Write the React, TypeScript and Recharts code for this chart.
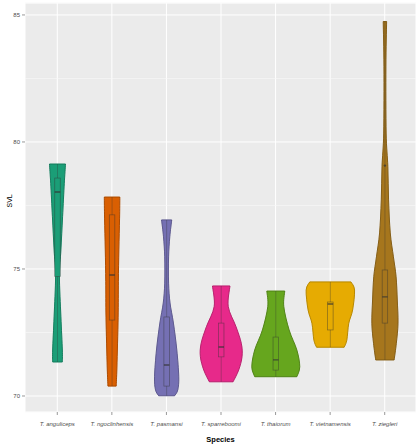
import { ComposedChart, Bar, XAxis, YAxis, CartesianGrid } from 'recharts';

const species = ['T. anguliceps', 'T. ngoclinhensis', 'T. pasmansi', 'T. sparreboomi', 'T. thaiorum', 'T. vietnamensis', 'T. ziegleri'];
const colors = ['#1B9E77', '#D95F02', '#7570B3', '#E7298A', '#66A61E', '#E6AB02', '#A6761D'];

const svlMin = [71.34, 70.39, 70.01, 70.56, 70.76, 71.92, 71.42];
const svlMax = [79.13, 77.83, 76.93, 74.33, 74.13, 74.49, 84.74];
const q1 = [74.7, 72.99, 70.39, 71.54, 71.02, 72.6, 72.87];
const median = [78.03, 74.76, 71.22, 71.93, 71.42, 73.62, 73.9];
const q3 = [78.58, 77.13, 73.11, 72.87, 72.32, 73.7, 74.96];
const outliers: number[][] = [[], [], [], [], [], [], [79.07]];

// density profiles: [SVL, relative density]
const densAnguliceps = [[79.13, 0.33], [78.37, 0.28], [77.06, 0.21], [75.75, 0.14], [74.7, 0.08], [73.12, 0.14], [71.81, 0.2], [71.34, 0.2]];
const densNgoclinhensis = [[77.83, 0.32], [77.0, 0.31], [75.75, 0.28], [74.5, 0.26], [73.1, 0.25], [71.14, 0.2], [70.39, 0.17]];
const densPasmansi = [[76.93, 0.21], [76.27, 0.13], [75.48, 0.08], [74.44, 0.08], [73.66, 0.14], [72.87, 0.28], [71.81, 0.42], [70.76, 0.5], [70.24, 0.46], [70.01, 0.33]];
const densSparreboomi = [[74.33, 0.36], [73.52, 0.29], [72.73, 0.61], [72.07, 0.83], [71.55, 0.86], [71.02, 0.72], [70.56, 0.49]];
const densThaiorum = [[74.13, 0.37], [73.52, 0.33], [72.6, 0.55], [71.81, 0.87], [71.15, 0.99], [70.76, 0.87]];
const densVietnamensis = [[74.49, 0.85], [74.17, 1.0], [73.39, 0.92], [72.86, 0.76], [72.2, 0.68], [71.92, 0.57]];
const densZiegleri = [[84.74, 0.07], [82.96, 0.04], [80.35, 0.05], [79.03, 0.12], [77.72, 0.15], [76.42, 0.22], [75.48, 0.35], [74.7, 0.46], [73.78, 0.51], [72.86, 0.54], [72.07, 0.47], [71.42, 0.38]];
const densities = [densAnguliceps, densNgoclinhensis, densPasmansi, densSparreboomi, densThaiorum, densVietnamensis, densZiegleri];

const yDomain = [69.37, 85.47];
const yTicks = [70, 75, 80, 85];
const yMinor = [72.5, 77.5, 82.5];

const data = species.map((name, i) => ({
  name,
  range: [svlMin[i], svlMax[i]],
  idx: i,
}));

function spline(pts: number[][]) {
  let d = '';
  for (let i = 0; i < pts.length - 1; i++) {
    const p0 = pts[i - 1] || pts[i];
    const p1 = pts[i];
    const p2 = pts[i + 1];
    const p3 = pts[i + 2] || pts[i + 1];
    const c1x = p1[0] + (p2[0] - p0[0]) / 6;
    const c1y = p1[1] + (p2[1] - p0[1]) / 6;
    const c2x = p2[0] - (p3[0] - p1[0]) / 6;
    const c2y = p2[1] - (p3[1] - p1[1]) / 6;
    d += ` C${c1x},${c1y} ${c2x},${c2y} ${p2[0]},${p2[1]}`;
  }
  return d;
}

const Violin = (props: any) => {
  const { x, y, width, height, payload } = props;
  const i = payload.idx;
  const lo = svlMin[i];
  const hi = svlMax[i];
  const py = (v: number) => y + (height * (hi - v)) / (hi - lo);
  const cx = x + width / 2;
  const maxHalf = width * 0.44;
  const prof = densities[i];
  const right = prof.map(([v, d]) => [cx + d * maxHalf, py(v)]);
  const left = prof.map(([v, d]) => [cx - d * maxHalf, py(v)]).reverse();
  const path =
    `M${left[left.length - 1][0]},${left[left.length - 1][1]} L${right[0][0]},${right[0][1]}` +
    spline(right) +
    ` L${left[0][0]},${left[0][1]}` +
    spline(left) +
    ' Z';
  const bw = width * 0.1;
  return (
    <g>
      <path d={path} fill={colors[i]} stroke={colors[i]} strokeWidth={1} />
      <path d={path} fill="none" stroke="#000" strokeOpacity={0.25} strokeWidth={0.8} />
      <line x1={cx} x2={cx} y1={py(hi)} y2={py(lo)} stroke="#333" strokeOpacity={0.45} strokeWidth={0.7} />
      <rect x={cx - bw / 2} y={py(q3[i])} width={bw} height={py(q1[i]) - py(q3[i])} fill={colors[i]} stroke="#333" strokeOpacity={0.55} strokeWidth={0.7} />
      <line x1={cx - bw / 2} x2={cx + bw / 2} y1={py(median[i])} y2={py(median[i])} stroke="#333" strokeOpacity={0.75} strokeWidth={1.4} />
      {outliers[i].map((o, k) => (
        <circle key={k} cx={cx} cy={py(o)} r={1.2} fill="#333" fillOpacity={0.7} />
      ))}
    </g>
  );
};

const SpeciesTick = (props: any) => {
  const { x, y, payload } = props;
  return (
    <text x={x} y={y + 9} textAnchor="middle" fontSize={6} fontStyle="italic" fill="#4D4D4D" fontFamily="Liberation Sans, Arial, sans-serif">
      {payload.value}
    </text>
  );
};

export default function App() {
  return (
    <div style={{ position: 'absolute', left: 0, top: 0, background: '#fff' }}>
      <ComposedChart width={416} height={445} data={data} margin={{ top: 3, right: 0, left: 0, bottom: 0 }} barCategoryGap={0} barGap={0}>
        <CartesianGrid fill="#EBEBEB" stroke="#FFFFFF" strokeWidth={1} />
        <CartesianGrid vertical={false} yAxisId="minor" stroke="#F8F8F8" strokeWidth={0.7} />
        <XAxis
          dataKey="name"
          height={33}
          padding={{ left: 5, right: 4 }}
          axisLine={false}
          tickLine={{ stroke: '#333', strokeWidth: 0.5 }}
          tickSize={3}
          tick={<SpeciesTick />}
          interval={0}
          label={{ value: 'Species', position: 'insideBottom', offset: 3, fontSize: 7.5, fontWeight: 'bold', fill: '#000', fontFamily: 'Liberation Sans, Arial, sans-serif' }}
        />
        <YAxis
          type="number"
          domain={yDomain}
          allowDataOverflow
          ticks={yTicks}
          width={25}
          axisLine={false}
          tickLine={{ stroke: '#333', strokeWidth: 0.5 }}
          tickSize={3}
          tick={{ fontSize: 6, fill: '#4D4D4D', fontFamily: 'Liberation Sans, Arial, sans-serif' }}
          label={{ value: 'SVL', angle: -90, position: 'insideLeft', offset: 10, fontSize: 7, fill: '#000', fontFamily: 'Liberation Sans, Arial, sans-serif' }}
        />
        <YAxis yAxisId="minor" type="number" domain={yDomain} allowDataOverflow ticks={yMinor} hide />
        <Bar dataKey="range" shape={<Violin />} isAnimationActive={false} />
      </ComposedChart>
    </div>
  );
}
